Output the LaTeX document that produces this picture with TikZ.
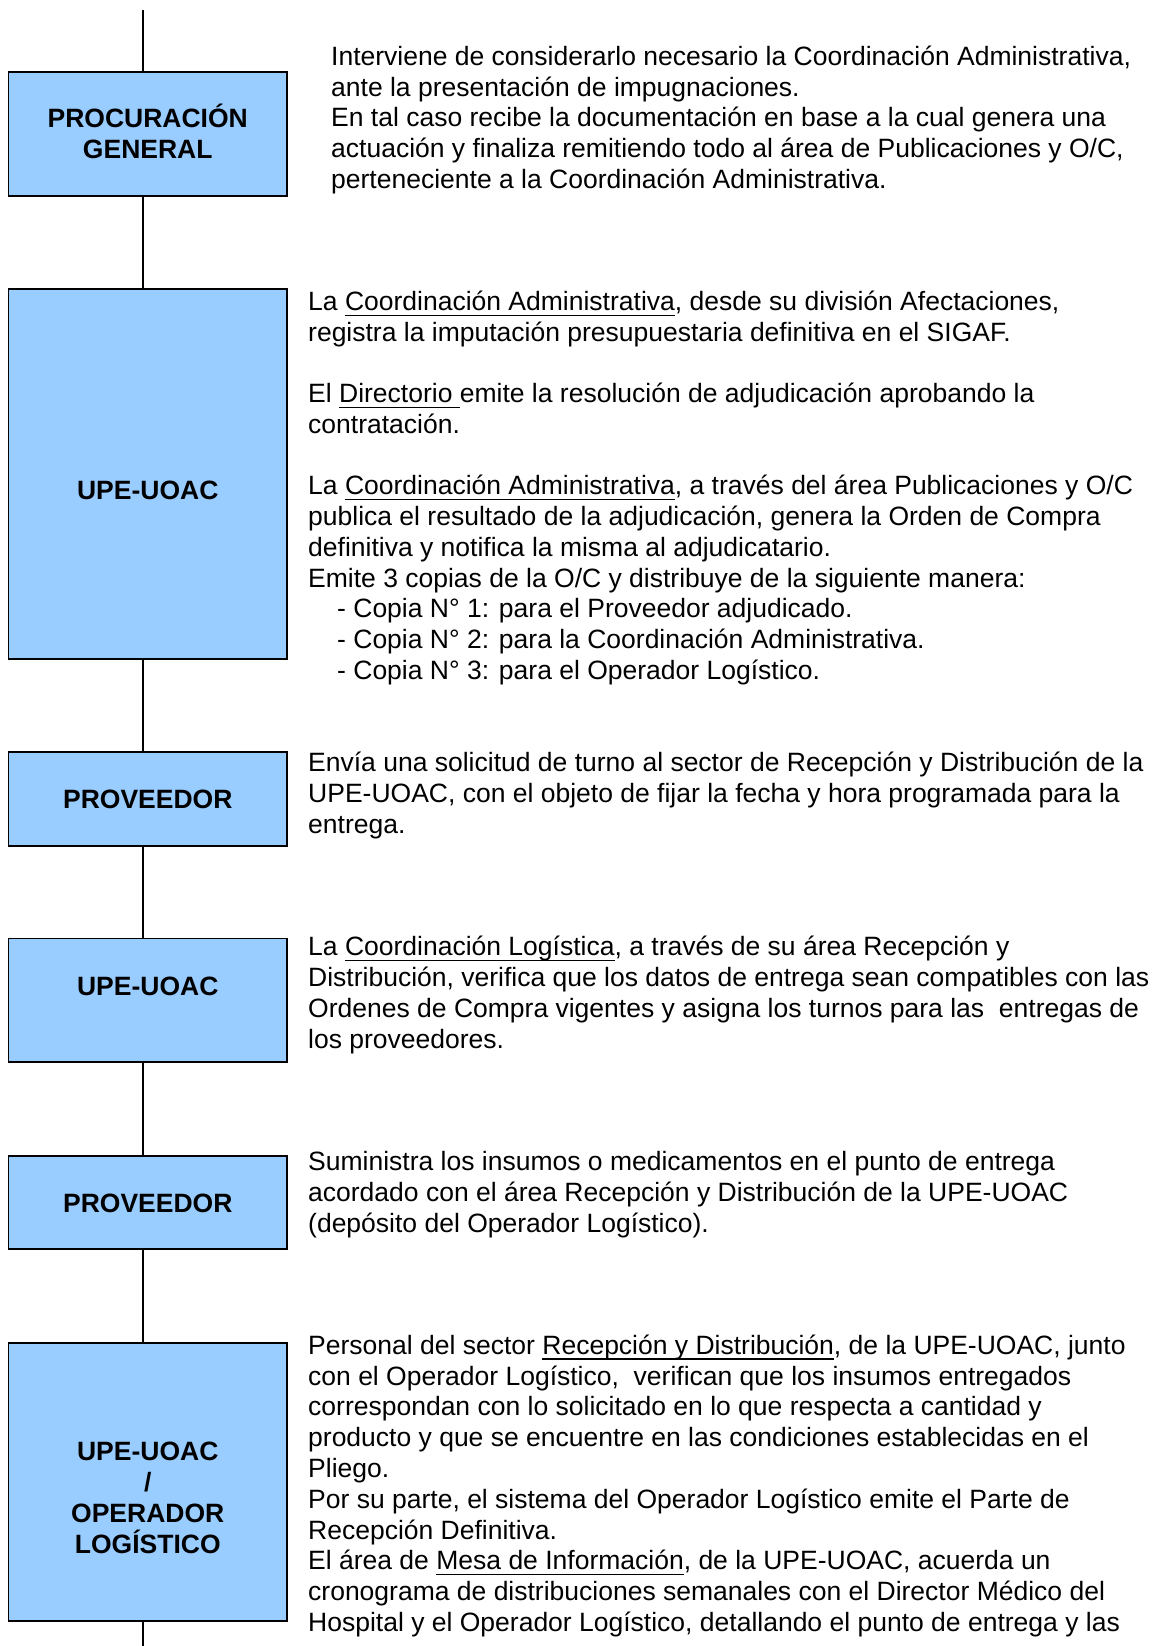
\documentclass[tikz,border=0pt]{standalone}
\usepackage{fontspec}
\setmainfont{Liberation Sans}
\definecolor{boxblue}{HTML}{99CCFF}
\newcommand\ulin[1]{\setbox0=\hbox{#1}\rlap{\rule[-5.5pt]{\wd0}{1.6pt}}\box0}
\begin{document}
\begin{tikzpicture}[x=1pt,y=-1pt,
  box/.style={draw=black, line width=1.8pt, fill=boxblue, inner sep=0pt, minimum width=278.5pt},
  lab/.style={font=\bfseries\fontsize{26.5}{30.8}\selectfont, align=center, inner sep=0pt},
  txt/.style={font=\fontsize{26.5}{30.8}\selectfont, align=left, inner sep=0pt, anchor=base west},
  conn/.style={draw=black, line width=1.8pt}]
\useasboundingbox (0,0) rectangle (1159,1646);
% boxes
\node[box, minimum height=124pt] (b1) at (147.75,134) {};
\node[box, minimum height=370pt] (b2) at (147.75,474) {};
\node[box, minimum height=94pt] (b3) at (147.75,799) {};
\node[box, minimum height=123.5pt] (b4) at (147.75,1000.25) {};
\node[box, minimum height=93pt] (b5) at (147.75,1202.5) {};
\node[box, minimum height=278pt] (b6) at (147.75,1482) {};
% labels
\node[lab] (l1) at (147.75,131.5) {PROCURACIÓN\\GENERAL};
\node[lab] (l2) at (147.75,490) {UPE-UOAC};
\node[lab] (l3) at (147.75,799) {PROVEEDOR};
\node[lab] (l4) at (147.75,986) {UPE-UOAC};
\node[lab] (l5) at (147.75,1203) {PROVEEDOR};
\node[lab] (l6) at (147.75,1498) {UPE-UOAC\\/\\OPERADOR\\LOGÍSTICO};
% connectors
\coordinate (top) at (143,10);
\coordinate (bot) at (143,1646);
\draw[conn] (top) -- (b1.north -| top);
\draw[conn] (b1.south -| top) -- (b2.north -| top);
\draw[conn] (b2.south -| top) -- (b3.north -| top);
\draw[conn] (b3.south -| top) -- (b4.north -| top);
\draw[conn] (b4.south -| top) -- (b5.north -| top);
\draw[conn] (b5.south -| top) -- (b6.north -| top);
\draw[conn] (b6.south -| top) -- (bot);
% texts (anchored at the baseline of the last line)
\node[txt] (t1) at (331,188.5) {Interviene de considerarlo necesario la Coordinación Administrativa,\\
ante la presentación de impugnaciones.\\
En tal caso recibe la documentación en base a la cual genera una\\
actuación y finaliza remitiendo todo al área de Publicaciones y O/C,\\
perteneciente a la Coordinación Administrativa.};
\node[txt] (t2) at (308,679.5) {La \ulin{Coordinación Administrativa}, desde su división Afectaciones,\\
registra la imputación presupuestaria definitiva en el SIGAF.\\[30.4pt]
El \ulin{Directorio }emite la resolución de adjudicación aprobando la\\
contratación.\\[30.4pt]
La \ulin{Coordinación Administrativa}, a través del área Publicaciones y O/C\\
publica el resultado de la adjudicación, genera la Orden de Compra\\
definitiva y notifica la misma al adjudicatario.\\
Emite 3 copias de la O/C y distribuye de la siguiente manera:\\
\hspace*{29pt}- Copia N° 1: para el Proveedor adjudicado.\\
\hspace*{29pt}- Copia N° 2: para la Coordinación Administrativa.\\
\hspace*{29pt}- Copia N° 3: para el Operador Logístico.};
\node[txt] (t3) at (308,833.5) {Envía una solicitud de turno al sector de Recepción y Distribución de la\\
UPE-UOAC, con el objeto de fijar la fecha y hora programada para la\\
entrega.};
\node[txt] (t4) at (308,1048) {La \ulin{Coordinación Logística}, a través de su área Recepción y\\
Distribución, verifica que los datos de entrega sean compatibles con las\\
Ordenes de Compra vigentes y asigna los turnos para las~ entregas de\\
los proveedores.};
\node[txt] (t5) at (308,1232.5) {Suministra los insumos o medicamentos en el punto de entrega\\
acordado con el área Recepción y Distribución de la UPE-UOAC\\
(depósito del Operador Logístico).};
\node[txt] (t6) at (308,1631.5) {Personal del sector \ulin{Recepción y Distribución}, de la UPE-UOAC, junto\\
con el Operador Logístico,~ verifican que los insumos entregados\\
correspondan con lo solicitado en lo que respecta a cantidad y\\
producto y que se encuentre en las condiciones establecidas en el\\
Pliego.\\
Por su parte, el sistema del Operador Logístico emite el Parte de\\
Recepción Definitiva.\\
El área de \ulin{Mesa de Información}, de la UPE-UOAC, acuerda un\\
cronograma de distribuciones semanales con el Director Médico del\\
Hospital y el Operador Logístico, detallando el punto de entrega y las};
\end{tikzpicture}
\end{document}
